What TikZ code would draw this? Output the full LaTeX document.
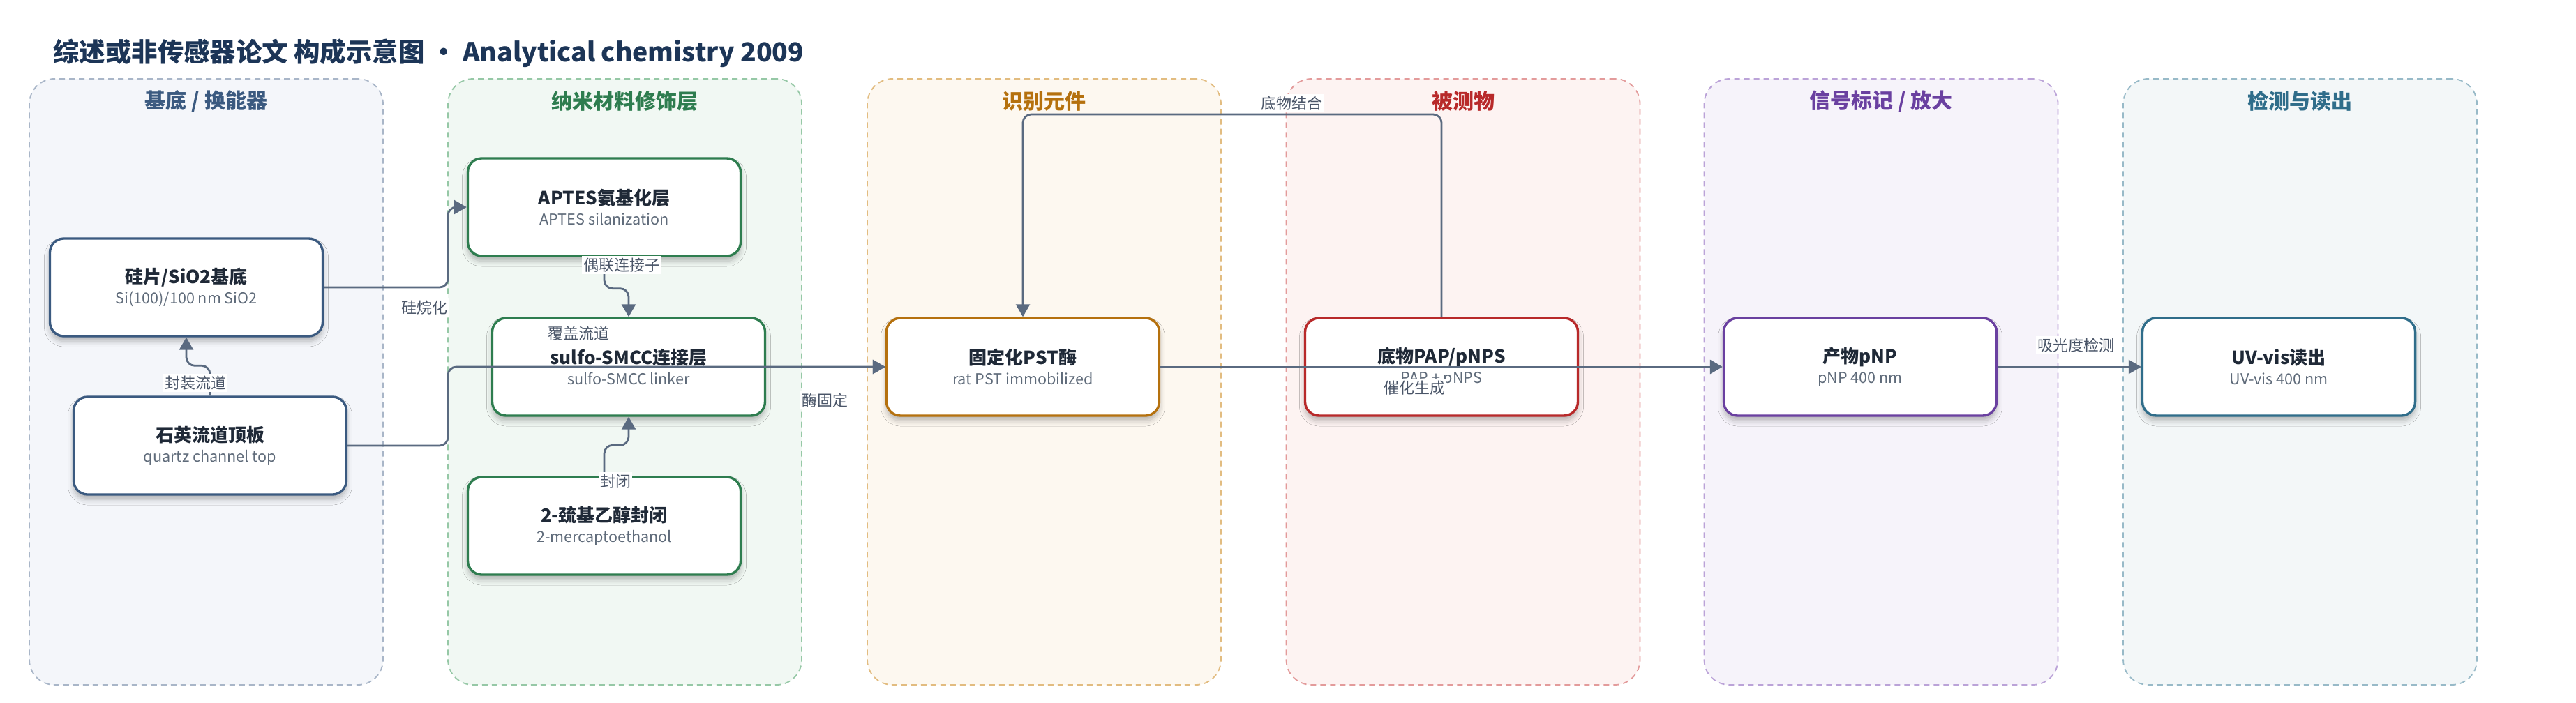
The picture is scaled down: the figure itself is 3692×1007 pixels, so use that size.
\documentclass[tikz,border=0pt]{standalone}
\usepackage{fontspec}
\setmainfont{Noto Sans CJK SC}
\usetikzlibrary{arrows.meta,shadows.blur,calc}
\definecolor{ink}{HTML}{1F2937}
\definecolor{subc}{HTML}{5F6B7A}
\definecolor{titc}{HTML}{1C3557}
\definecolor{ec}{HTML}{5A6A80}
\definecolor{lc}{HTML}{4A5568}
\definecolor{cAn}{HTML}{3B5A80}\definecolor{cAf}{HTML}{F4F6FA}\definecolor{cAb}{HTML}{A9B6C8}
\definecolor{cBn}{HTML}{2E7D4F}\definecolor{cBf}{HTML}{F1F8F3}\definecolor{cBb}{HTML}{96C8A6}
\definecolor{cCn}{HTML}{B5710E}\definecolor{cCf}{HTML}{FDF8F0}\definecolor{cCb}{HTML}{E2BC80}
\definecolor{cDn}{HTML}{B8292A}\definecolor{cDf}{HTML}{FDF3F2}\definecolor{cDb}{HTML}{E39B9B}
\definecolor{cEn}{HTML}{6A40A0}\definecolor{cEf}{HTML}{F6F3FA}\definecolor{cEb}{HTML}{BBA3D8}
\definecolor{cFn}{HTML}{2F6D8A}\definecolor{cFf}{HTML}{F3F7F8}\definecolor{cFb}{HTML}{98BAC8}
\newcommand\nodetxt[2]{{\fontsize{13}{16}\selectfont\bfseries\color{ink}#1}\\[2.5pt]{\fontsize{10.8}{13}\selectfont\color{subc}#2}}
\begin{document}
\begin{tikzpicture}[x=0.5pt,y=-0.5pt,
  colbox/.style={dash pattern=on 4pt off 3pt, line width=0.9pt, rounded corners=18pt,
    minimum width=253.5pt, minimum height=434.5pt, inner sep=0pt},
  colhead/.style={font=\fontsize{15}{18}\selectfont\bfseries},
  box/.style={draw, fill=white, line width=1.7pt, rounded corners=10pt,
    minimum width=195.5pt, minimum height=70pt, align=center, inner sep=2pt,
    blur shadow={shadow xshift=0pt, shadow yshift=-3.5pt, shadow blur radius=4pt, shadow opacity=28}},
  edge/.style={draw=ec, line width=1.4pt, rounded corners=6pt, -{Triangle[length=9pt,width=10pt]}},
  lab/.style={font=\fontsize{11}{13}\selectfont, text=lc, fill=white, inner sep=1.2pt}
]
\useasboundingbox (0,0) rectangle (3692,1007);
\fill[white] (0,0) rectangle (3692,1007);

% title
\node[anchor=west, font=\fontsize{18.7}{22}\selectfont\bfseries, text=titc, inner sep=0pt] (title) at (76,76)
  {综述或非传感器论文 构成示意图 · Analytical chemistry 2009};

% columns
\node[colbox, draw=cAb, fill=cAf] (colA) at (295.5,547.5) {};
\node[colbox, draw=cBb, fill=cBf] (colB) at (895.5,547.5) {};
\node[colbox, draw=cCb, fill=cCf] (colC) at (1496.5,547.5) {};
\node[colbox, draw=cDb, fill=cDf] (colD) at (2097,547.5) {};
\node[colbox, draw=cEb, fill=cEf] (colE) at (2696,547.5) {};
\node[colbox, draw=cFb, fill=cFf] (colF) at (3296.5,547.5) {};

\node[colhead, text=cAn] (hA) at (295.5,145) {基底 / 换能器};
\node[colhead, text=cBn] (hB) at (895.5,145) {纳米材料修饰层};
\node[colhead, text=cCn] (hC) at (1496.5,145) {识别元件};
\node[colhead, text=cDn] (hD) at (2097,145) {被测物};
\node[colhead, text=cEn] (hE) at (2696,145) {信号标记 / 放大};
\node[colhead, text=cFn] (hF) at (3296.5,145) {检测与读出};

% nodes
\node[box, draw=cAn] (si) at (267,412) {\nodetxt{硅片/SiO2基底}{Si(100)/100 nm SiO2}};
\node[box, draw=cAn] (qz) at (301,639) {\nodetxt{石英流道顶板}{quartz channel top}};
\node[box, draw=cBn] (ap) at (866,297) {\nodetxt{APTES氨基化层}{APTES silanization}};
\node[box, draw=cBn] (sm) at (901,526) {\nodetxt{sulfo-SMCC连接层}{sulfo-SMCC linker}};
\node[box, draw=cBn] (me) at (866,754) {\nodetxt{2-巯基乙醇封闭}{2-mercaptoethanol}};
\node[box, draw=cCn] (pst) at (1466,526) {\nodetxt{固定化PST酶}{rat PST immobilized}};
\node[box, draw=cDn] (pap) at (2066,526) {\nodetxt{底物PAP/pNPS}{PAP + pNPS}};
\node[box, draw=cEn] (pnp) at (2666,526) {\nodetxt{产物pNP}{pNP 400 nm}};
\node[box, draw=cFn] (uv) at (3266,526) {\nodetxt{UV-vis读出}{UV-vis 400 nm}};

% helper coordinates
\coordinate (gapAB) at (642,0);
\coordinate (toprow) at (0,164);

% edges
\draw[edge] (si.east) -- (si.east -| gapAB) |- (ap.west);
\draw[edge] (qz.east) -- (qz.east -| gapAB) |- (pst.west);
\draw[edge] (sm.east) -- (pst.west);
\draw[edge] (ap.south) -- ++(0,45) -| (sm.north);
\draw[edge] (me.north) -- ++(0,-44) -| (sm.south);
\draw[edge] (qz.north) -- ++(0,-43) -| (si.south);
\draw[edge] (pst.east) -- (pnp.west);
\draw[edge] (pap.north) -- (pap.north |- toprow) -- (pst.north |- toprow) -- (pst.north);
\draw[edge] (pnp.east) -- (uv.west);

% edge labels
\node[lab] (l1) at (608,441) {硅烷化};
\node[lab] (l2) at (829,478) {覆盖流道};
\node[lab] (l3) at (1182,574) {酶固定};
\node[lab] (l4) at (891,380) {偶联连接子};
\node[lab] (l5) at (882,690) {封闭};
\node[lab] (l6) at (280,549) {封装流道};
\node[lab] (l7) at (2027,556) {催化生成};
\node[lab] (l8) at (1851,148) {底物结合};
\node[lab] (l9) at (2975,495) {吸光度检测};
\end{tikzpicture}
\end{document}
